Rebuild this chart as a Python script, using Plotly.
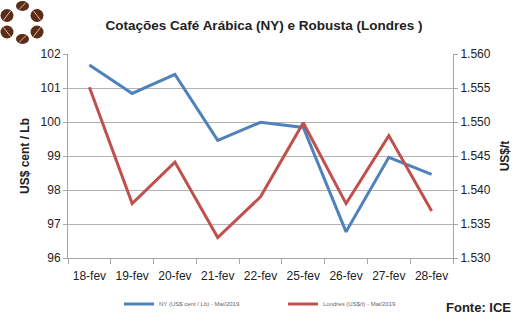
import plotly.graph_objects as go

dates = ["18-fev", "19-fev", "20-fev", "21-fev", "22-fev", "25-fev", "26-fev", "27-fev", "28-fev"]
ny = [101.68, 100.84, 101.40, 99.46, 99.99, 99.84, 96.77, 98.96, 98.46]
londres = [1555.1, 1538.0, 1544.1, 1533.0, 1539.0, 1549.9, 1538.0, 1548.0, 1536.9]
ny_name = "NY (US$ cent / Lb) - Mai/2019"
lon_name = "Londres (US$/t) - Mai/2019"

L, R, T, B = 68, 453, 54, 258
W, H = 523, 318

def px(x):
    return (x - L) / (R - L)

def py(y):
    return (B - y) / (B - T)

fig = go.Figure()
fig.add_trace(go.Scatter(x=dates, y=ny, name=ny_name, mode="lines",
                         line=dict(color="#4f81bd", width=3)))
fig.add_trace(go.Scatter(x=dates, y=londres, name=lon_name, mode="lines", yaxis="y2",
                         line=dict(color="#c0504d", width=3)))

font_family = "Liberation Sans, Arial, sans-serif"

# logo beans: (cx, cy, half-width, half-height, line direction)
shapes = []
beans = [(22.5, 6, 6.5, 5, 1), (7, 15.5, 6.5, 6.5, 1), (37, 15.5, 6.5, 6.5, -1),
         (7, 32, 6.5, 6.5, -1), (37, 32, 6.5, 6.5, 1), (22.5, 39, 6.5, 5, 1)]
for cx, cy, hw, hh, d in beans:
    shapes.append(dict(type="circle", xref="paper", yref="paper",
                       x0=px(cx - hw), x1=px(cx + hw), y0=py(cy + hh), y1=py(cy - hh),
                       fillcolor="#5b2c16", line=dict(width=0)))
    shapes.append(dict(type="line", xref="paper", yref="paper",
                       x0=px(cx - 3.5 * d), x1=px(cx + 3.5 * d), y0=py(cy + hh * 0.7), y1=py(cy - hh * 0.7),
                       line=dict(color="#d9c2ad", width=1)))

fig.update_layout(
    width=W, height=H,
    margin=dict(l=L, r=W - R, t=T, b=H - B, autoexpand=False),
    paper_bgcolor="white", plot_bgcolor="white",
    separators=",.",
    font=dict(family=font_family, color="#222", size=12),
    title=dict(text="<b>Cotações Café Arábica (NY) e Robusta (Londres )</b>",
               x=264 / W, xanchor="center", y=1 - 25 / H, yanchor="middle",
               font=dict(size=13.5, color="#222")),
    xaxis=dict(type="category", showgrid=False, showline=True, linecolor="#a6a6a6",
               ticks="outside", tickson="boundaries", ticklen=5, tickcolor="#a6a6a6",
               tickfont=dict(size=12, color="#222"), ticklabelstandoff=7,
               range=[-0.5, 8.5], fixedrange=True, automargin=False),
    yaxis=dict(range=[96, 102], dtick=1, showgrid=True, gridcolor="#b3b3b3",
               showline=True, linecolor="#a6a6a6", ticks="outside", ticklen=4,
               tickcolor="#a6a6a6", tickfont=dict(size=12, color="#222"),
               zeroline=False, automargin=False,
               title=dict(text="<b>US$ cent / Lb</b>", font=dict(size=12), standoff=8)),
    yaxis2=dict(range=[1530, 1560], dtick=5, overlaying="y", side="right",
                showgrid=False, showline=True, linecolor="#a6a6a6", ticks="outside",
                ticklen=4, tickcolor="#a6a6a6", tickformat=",d",
                tickfont=dict(size=12, color="#222"), zeroline=False, automargin=False,
                title=dict(text="<b>US$/t</b>", font=dict(size=12), standoff=10)),
    showlegend=True,
    legend=dict(orientation="h", x=px(119), xanchor="left", y=py(304), yanchor="middle",
                font=dict(size=6, color="#666"), entrywidth=119, bgcolor="rgba(0,0,0,0)"),
    shapes=shapes,
    annotations=[dict(text="<b>Fonte: ICE</b>", xref="paper", yref="paper",
                      x=px(513), y=py(307), xanchor="right", yanchor="middle",
                      showarrow=False, font=dict(size=13, color="#222"))],
)

fig.write_html("out.html")
